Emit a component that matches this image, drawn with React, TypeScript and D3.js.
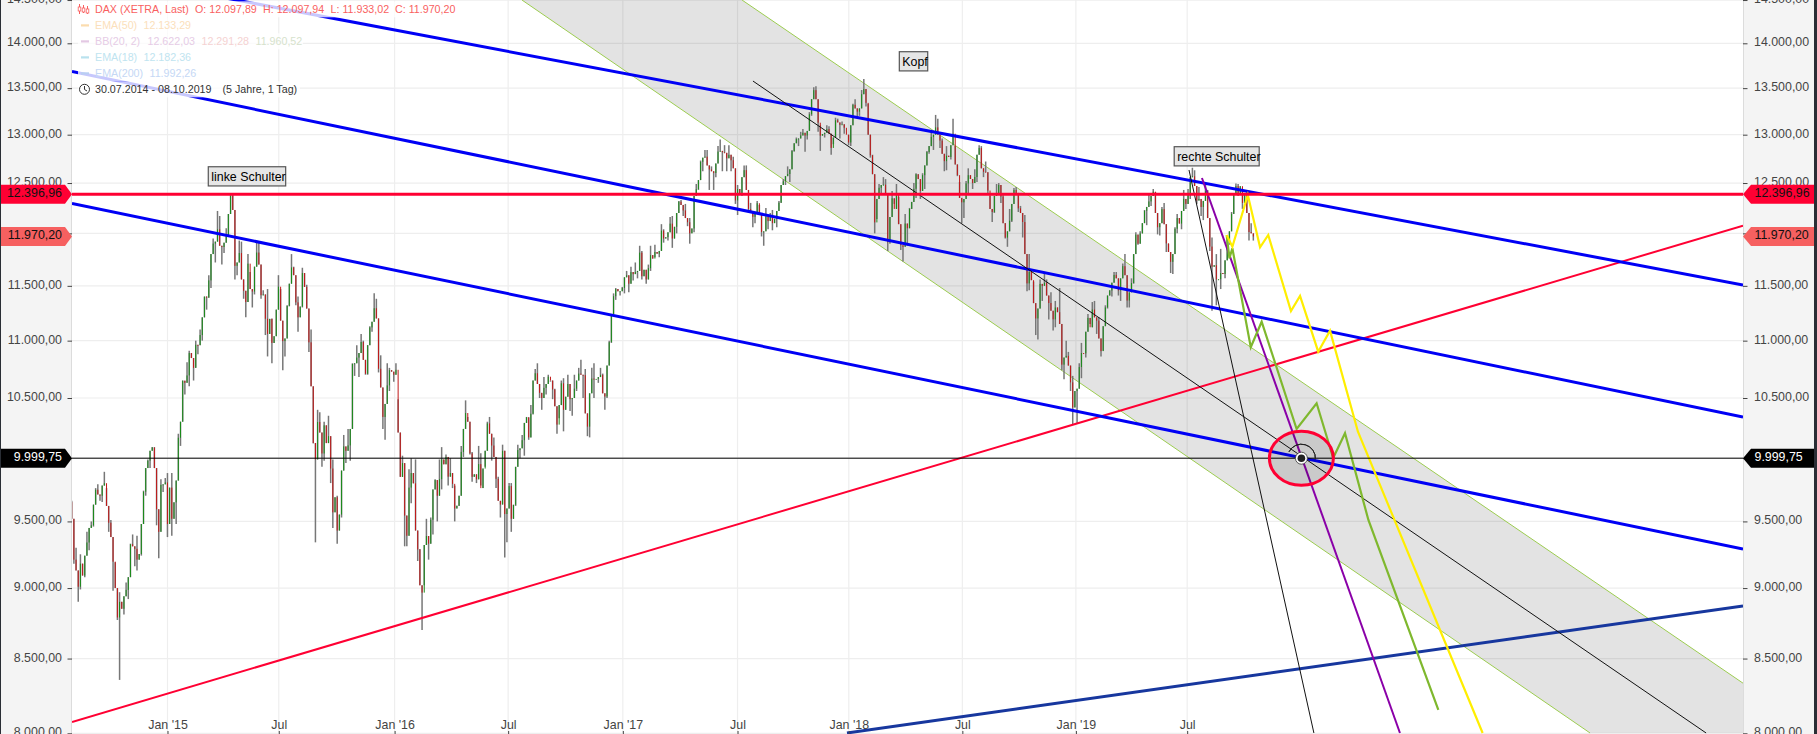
import React, { useRef, useEffect } from 'react';
import * as d3 from 'd3';

const WIDTH = 1817;
const HEIGHT = 734;
const PLOT_LEFT = 72;
const PLOT_RIGHT = 1743;
const FONT = '"Liberation Sans", Arial, sans-serif';

// weekly values, first week ends 01.08.2014
const firstOpen = 9650;
const firstBarYear = 2014.583;
const barsPerYear = 52.18;

const closes = [
  9210,9010,9092,9339,9470,9747,9700,9799,9490,9195,8788,8850,8987,9326,9291,9252,9732,9980,10087,9594,9786,9805,
  9764,9648,10167,10649,10694,10846,10963,11050,11401,11551,11901,12039,11868,11967,12374,11688,11810,11454,11709,11447,11815,11413,11197,11196,11040,11492,10996,11315,11673,11347,11308,11490,10985,10124,10298,10038,10123,9916,9688,9553,10096,10104,10794,10850,10988,10708,11119,11293,10752,10340,10608,10727,
  10743,9849,9545,9764,9798,9286,8967,9388,9513,9824,9831,9950,9851,9794,9622,10051,10373,10039,9870,9952,9916,10286,10103,9834,9631,9557,9776,9629,10066,10147,10337,10367,10713,10544,10587,10683,10573,10276,10626,10511,10490,10580,10710,10696,10259,10667,10664,10699,10513,10986,11404,11449,11481,
  11599,11629,11630,11814,11651,11666,11757,11804,12027,11963,12095,12064,12313,12225,12109,12048,12438,12717,12770,12638,12602,12823,12816,12753,12733,12325,12389,12631,12240,12162,12297,12014,12165,12167,12143,12303,12518,12592,12829,12955,12992,12991,13217,13478,13127,13007,13059,12861,13153,13104,13073,12918,
  13319,13245,13434,13340,12785,12107,12452,12483,11914,12346,12389,11886,12096,12241,12442,12540,12580,12819,12977,13077,12938,12724,12767,13010,12580,12306,12496,12541,12561,12860,12615,12424,12210,12394,12364,11959,12124,12430,12246,12111,11523,11553,11200,11518,11529,11341,11192,11257,10788,10865,10634,10559,
  10767,10887,11205,11281,11180,10907,11300,11457,11602,11458,11685,11364,11526,11988,11999,12222,12315,12412,12060,12238,11903,11726,12045,12096,12340,12399,12568,12323,12260,12419,11872,11694,11562,11611,11939,12192,12469,12468,12381,12013,11970,
];
// level in the middle of each week
const midweek = [
  9520,9130,9180,9240,9450,9630,9710,9780,9620,9380,9000,8900,8940,9080,9310,9210,9480,9920,10060,9920,9420,9790,
  9480,9520,9820,10300,10630,10890,10760,10960,11210,11390,11800,11920,11880,11910,12190,12230,11720,11560,11350,11470,11680,11700,11420,11060,10980,11280,11180,11020,11520,11600,11210,11620,11290,10600,9990,10210,10270,10180,9570,9430,9900,10060,10240,10800,10890,10830,10960,11170,11200,10590,10450,10740,
  10700,10210,9960,9390,9880,9430,9020,9320,9330,9750,9700,9990,10010,9880,9600,9700,10240,10300,9850,9830,9760,10060,10200,10010,9660,10060,9600,9520,9930,10080,10290,10170,10650,10620,10500,10620,10650,10430,10440,10400,10620,10500,10650,10700,10370,10540,10660,10680,10540,10780,11240,11470,11450,
  11580,11520,11610,11640,11590,11560,11790,11820,11830,11950,12010,11950,12200,12280,12150,12000,12370,12530,12760,12680,12620,12700,12830,12810,12790,12650,12440,12560,12430,12200,12200,12180,12020,12120,12100,12220,12480,12570,12640,12910,12960,13020,13040,13380,13380,12990,13020,13010,12970,13130,13110,13000,
  13100,13280,13280,13490,13000,12590,12340,12480,12380,12160,12240,12090,11870,12050,12310,12590,12420,12680,12880,13000,13000,12800,12780,12890,12690,12350,12340,12580,12500,12790,12650,12610,12240,12370,12480,12100,12020,12290,12400,12200,11800,11630,11340,11290,11500,11410,11270,11300,11150,10850,10780,10420,
  10580,10890,11080,11120,11210,11020,11130,11410,11530,11570,11570,11600,11440,11800,11900,12100,12260,12370,12200,12100,12090,11820,11800,12150,12220,12290,12560,12470,12340,12320,12150,11680,11560,11620,11740,12020,12380,12400,12300,12200,12000,
];
const highs = [
  9660,9300,9250,9420,9500,9760,9790,9890,9760,9510,9190,8970,9040,9330,9400,9390,9740,9990,10090,10090,9830,9840,
  9880,9880,10200,10650,10810,10910,11000,11100,11400,11600,11950,12220,12170,12050,12390,12390,11930,11920,11800,11630,11930,11920,11460,11470,11200,11600,11470,11320,11800,11680,11400,11670,11510,11100,10400,10380,10300,10350,9990,9700,10190,10240,10800,10960,11060,11000,11130,11430,11380,10870,10800,10760,
  10800,10490,10020,9910,10000,9990,9290,9520,9530,9830,9990,10090,10030,10000,9780,10100,10480,10340,10050,10100,10040,10300,10340,10170,9850,10110,9800,9800,10110,10190,10340,10440,10750,10800,10680,10700,10640,10580,10650,10670,10700,10700,10760,10830,10750,10760,10800,10760,10710,11000,11430,11480,11490,
  11640,11680,11720,11880,11830,11700,11880,11890,12090,12040,12160,12170,12320,12330,12290,12150,12490,12730,12840,12840,12670,12880,12950,12890,12890,12770,12480,12680,12680,12300,12320,12280,12250,12200,12230,12320,12540,12670,12840,12970,13030,13060,13240,13510,13520,13100,13100,13090,13180,13170,13140,13000,
  13330,13380,13480,13600,13330,12790,12490,12560,12540,12420,12490,12360,12190,12250,12500,12600,12600,12830,13020,13210,13170,12960,12880,13170,12880,12510,12520,12650,12640,12890,12880,12720,12370,12490,12500,12380,12240,12450,12460,12270,12180,11800,11540,11560,11620,11560,11440,11360,11480,11000,10900,10690,
  10800,10980,11240,11350,11360,11210,11320,11460,11630,11630,11710,11800,11570,12010,12020,12230,12380,12440,12410,12260,12300,11900,12060,12190,12430,12440,12656,12630,12460,12490,12430,11960,11800,11850,11970,12210,12494,12490,12440,12420,12100,
];
const lows = [
  9180,8900,8990,9080,9280,9460,9660,9650,9420,8980,8770,8354,8810,8920,9160,9130,9240,9700,9920,9470,9220,9730,
  9380,9390,9480,10100,10530,10600,10650,10880,11000,11280,11480,11720,11700,11810,11980,11560,11600,11380,11210,11300,11420,11380,11050,10860,10800,11040,10740,10860,11310,11320,11080,11300,10900,10120,9340,9930,9980,9800,9450,9330,9530,9960,9980,10690,10680,10700,10700,11080,10720,10240,10150,10560,
  10640,9850,9310,9310,9640,9200,8699,9020,9210,9400,9500,9750,9780,9760,9500,9620,10010,10030,9810,9800,9780,9930,9980,9760,9530,9226,9340,9420,9620,10000,10020,10150,10360,10500,10400,10530,10490,10200,10330,10220,10390,10350,10560,10500,10180,10170,10500,10630,10400,10500,10980,11370,11410,
  11430,11440,11550,11570,11560,11520,11640,11770,11770,11910,11930,11860,12000,12170,12070,11900,12010,12430,12620,12430,12430,12560,12620,12620,12620,12290,12180,12370,12220,12060,12100,11970,11880,12040,12030,12060,12300,12480,12510,12820,12880,12820,12950,13200,13030,12830,12970,12790,12900,12960,13010,12890,
  12880,13190,13200,13300,12760,12000,12140,12400,11830,11900,12290,11840,11730,11880,12240,12350,12340,12440,12800,12840,12860,12620,12630,12740,12570,12100,12150,12380,12440,12510,12560,12390,12110,12200,12300,11950,11870,12110,12210,11960,11450,11460,11050,11010,11360,11190,11090,11120,10740,10660,10560,10280,
  10290,10670,10850,11150,11060,10860,10910,11290,11400,11410,11360,11300,11300,11520,11890,12000,12080,12270,11990,11980,11820,11620,11610,12000,12040,12240,12340,12290,12170,12130,11830,11270,11320,11470,11570,11890,12190,12370,12240,11930,11930,
];

const priceTicks = [14500, 14000, 13500, 13000, 12500, 12000, 11500, 11000, 10500, 10000, 9500, 9000, 8500, 8000];
const timeTicks = [2015, 2015.49, 2016, 2016.5, 2017.005, 2017.51, 2018, 2018.5, 2019, 2019.49];
const timeLabels = ["Jan '15", 'Jul', "Jan '16", 'Jul', "Jan '17", 'Jul', "Jan '18", 'Jul', "Jan '19", 'Jul'];

// drawings as [year, price]
const blueLines = [
  [[2014.5795, 14870], [2021.9375, 11508]],
  [[2014.5795, 13683], [2021.9375, 10339]],
  [[2014.5795, 12294], [2021.9375, 9290]],
];
const risingRed = [[2014.5795, 8074], [2021.9375, 12075]];
const darkBlue = [[2017.992, 8002], [2021.9375, 8870]];
const channelUpper = [[2017.53, 14500], [2022.259, 8002]];
const channelLower = [[2016.561, 14500], [2021.264, 8002]];
const middleLine = [[2017.578, 13578], [2021.775, 8002]];
const steepLine = [[2019.498, 12633], [2020.048, 8002]];
const purpleLine = [[2019.555, 12551], [2020.427, 8002]];
const yellowPath = [
  [2019.664, 11984], [2019.689, 11871], [2019.757, 12379], [2019.811, 11865], [2019.847, 11984], [2019.947, 11268],
  [2019.987, 11406], [2020.067, 10902], [2020.119, 11089], [2020.242, 10217], [2020.791, 8002],
];
const greenPath = [
  [2019.664, 11984], [2019.676, 11760], [2019.689, 11856], [2019.77, 10941], [2019.818, 11170], [2019.972, 10239],
  [2020.06, 10455], [2020.133, 10001], [2020.185, 10204], [2020.288, 9511], [2020.596, 8153],
];
const resistance = 12396.96;
const lastClose = 11970.2;
const crossing = 9999.75;
const crossingYear = 2019.993;

const annotations = [
  { text: 'linke Schulter', year: 2015.35, price: 12568, w: 77.4 },
  { text: 'Kopf', year: 2018.285, price: 13797, w: 28.4 },
  { text: 'rechte Schulter', year: 2019.62, price: 12774, w: 85 },
];

const priceTags = [
  { value: resistance, fill: '#ff0033', color: '#111' },
  { value: lastClose, fill: '#f66060', color: '#111' },
  { value: crossing, fill: '#000', color: '#fff' },
];

const legendRows = [
  { w: 378, items: [['DAX (XETRA, Last)', 95, '#f95f5f'], ['O: 12.097,89', 195, '#f95f5f'], ['H: 12.097,94', 263, '#f95f5f'], ['L: 11.933,02', 330.5, '#f95f5f'], ['C: 11.970,20', 395, '#f95f5f']] },
  { w: 115, swatch: '#fbdcae', items: [['EMA(50)', 95, '#fbe0bb'], ['12.133,29', 143.5, '#fbe0bb']] },
  { w: 225, swatch: '#e3c8e3', items: [['BB(20, 2)', 95, '#e6cce6'], ['12.622,03', 147.5, '#e6cce6'], ['12.291,28', 201.5, '#f5d2d2'], ['11.960,52', 255.5, '#d6e2cc']] },
  { w: 115, swatch: '#b9e2ee', items: [['EMA(18)', 95, '#c0e4f0'], ['12.182,36', 143.5, '#c0e4f0']] },
  { w: 120, swatch: '#b9cff2', items: [['EMA(200)', 95, '#c5d8f5'], ['11.992,26', 149.5, '#c5d8f5']] },
  { w: 222, items: [['30.07.2014 - 08.10.2019', 95, '#333'], ['(5 Jahre, 1 Tag)', 222.5, '#333']] },
];

const de = d3.formatLocale({ decimal: ',', thousands: '.', grouping: [3], currency: ['', ''] });
const priceFormat = de.format(',.2f');

const App: React.FC = () => {
  const svgRef = useRef<SVGSVGElement | null>(null);

  useEffect(() => {
    if (!svgRef.current) return;
    const svg = d3.select(svgRef.current);
    svg.selectAll('*').remove();

    const x = d3.scaleLinear().domain([2014.5795, 2021.9375]).range([PLOT_LEFT, PLOT_RIGHT]);
    const y = d3.scaleLog().domain([8000, 14000]).range([733.3, 43.3]);
    const line = d3.line<number[]>().x(d => x(d[0])).y(d => y(d[1]));

    svg.append('rect').attr('width', WIDTH).attr('height', HEIGHT).attr('fill', '#fff');
    svg.append('defs').append('clipPath').attr('id', 'plot')
      .append('rect').attr('x', PLOT_LEFT).attr('y', 0).attr('width', PLOT_RIGHT - PLOT_LEFT).attr('height', HEIGHT);

    const plot = svg.append('g').attr('clip-path', 'url(#plot)');

    // grid
    plot.selectAll('.hgrid').data(priceTicks).enter().append('line')
      .attr('x1', PLOT_LEFT).attr('x2', PLOT_RIGHT)
      .attr('y1', d => y(d)).attr('y2', d => y(d))
      .attr('stroke', '#eeeeee').attr('stroke-width', 1.2);
    plot.selectAll('.vgrid').data(timeTicks).enter().append('line')
      .attr('x1', d => x(d)).attr('x2', d => x(d))
      .attr('y1', 0).attr('y2', HEIGHT)
      .attr('stroke', '#eeeeee').attr('stroke-width', 1.2);

    // channel
    plot.append('path')
      .attr('d', line([...channelUpper, channelLower[1], channelLower[0]]) + 'Z')
      .attr('fill', '#000').attr('fill-opacity', 0.11);
    [channelUpper, channelLower].forEach(c => {
      plot.append('path').attr('d', line(c)).attr('fill', 'none').attr('stroke', '#9ccc50').attr('stroke-width', 1);
    });

    // candles: every week is split at its midweek level, the weekly extremes go to the half nearer to them
    const bars = closes.flatMap((close, i) => {
      const open = i ? closes[i - 1] : firstOpen;
      const mid = midweek[i];
      const t = firstBarYear + i / barsPerYear;
      const highFirst = Math.max(open, mid) >= close;
      const lowFirst = Math.min(open, mid) <= close;
      return [
        {
          x: t - 0.25 / barsPerYear, open, close: mid,
          high: highFirst ? highs[i] : Math.max(open, mid),
          low: lowFirst ? lows[i] : Math.min(open, mid),
        },
        {
          x: t + 0.25 / barsPerYear, open: mid, close,
          high: highFirst ? Math.max(mid, close) : highs[i],
          low: lowFirst ? Math.min(mid, close) : lows[i],
        },
      ];
    });
    plot.selectAll('.wick').data(bars).enter().append('line')
      .attr('x1', d => x(d.x)).attr('x2', d => x(d.x))
      .attr('y1', d => y(d.high)).attr('y2', d => y(d.low))
      .attr('stroke', '#777').attr('stroke-width', 1.5);
    plot.selectAll('.body').data(bars).enter().append('rect')
      .attr('x', d => x(d.x) - 0.5).attr('width', 1)
      .attr('y', d => y(Math.max(d.open, d.close)))
      .attr('height', d => Math.max(1, Math.abs(y(d.open) - y(d.close))))
      .attr('fill', d => (d.close >= d.open ? '#1a8a1a' : '#c01818'));

    // drawings
    const stroke = (pts: number[][], color: string, width: number) =>
      plot.append('path').attr('d', line(pts)).attr('fill', 'none').attr('stroke', color)
        .attr('stroke-width', width).attr('stroke-linejoin', 'miter');

    stroke(darkBlue, '#17379e', 3);
    stroke(risingRed, '#ff0033', 2);
    blueLines.forEach(l => stroke(l, '#0000f5', 3));
    stroke(middleLine, '#111', 1);
    stroke(steepLine, '#111', 1);
    stroke(purpleLine, '#8a00a8', 2);
    stroke(greenPath, '#7fb82e', 2.2);
    stroke(yellowPath, '#ffee00', 2.2);

    plot.append('line').attr('x1', PLOT_LEFT).attr('x2', PLOT_RIGHT)
      .attr('y1', y(crossing)).attr('y2', y(crossing)).attr('stroke', '#000').attr('stroke-width', 1);
    plot.append('line').attr('x1', PLOT_LEFT).attr('x2', PLOT_RIGHT)
      .attr('y1', y(resistance) + 1).attr('y2', y(resistance) + 1).attr('stroke', '#ff0033').attr('stroke-width', 3);

    // marker at the crossing
    const cx = x(crossingYear);
    const cy = y(crossing);
    plot.append('ellipse').attr('cx', cx).attr('cy', cy).attr('rx', 32).attr('ry', 27)
      .attr('fill', '#000').attr('fill-opacity', 0.11).attr('stroke', '#ff0033').attr('stroke-width', 3);
    plot.append('path')
      .attr('d', d3.arc()({ innerRadius: 14, outerRadius: 14, startAngle: -1.1, endAngle: 1.65 }) as string)
      .attr('transform', `translate(${cx},${cy})`).attr('fill', 'none').attr('stroke', '#222').attr('stroke-width', 1);
    plot.append('circle').attr('cx', cx).attr('cy', cy).attr('r', 6).attr('fill', '#fff').attr('stroke', '#333').attr('stroke-width', 0.8);
    plot.append('circle').attr('cx', cx).attr('cy', cy).attr('r', 3.8).attr('fill', '#222');

    // text boxes
    const notes = plot.selectAll('.note').data(annotations).enter().append('g')
      .attr('transform', d => `translate(${x(d.year) - d.w / 2},${y(d.price) - 9.6})`);
    notes.append('rect').attr('width', d => d.w).attr('height', 19.2)
      .attr('fill', '#e6e6e6').attr('stroke', '#555').attr('stroke-width', 1.2);
    notes.append('text').attr('x', 3).attr('y', 14).text(d => d.text)
      .attr('font-family', FONT).attr('font-size', 12.4).attr('fill', '#000');

    // legend
    const legend = svg.append('g').attr('font-family', FONT).attr('font-size', 10.7);
    legendRows.forEach((row, r) => {
      const rowY = 9.3 + r * 16;
      legend.append('rect').attr('x', 78).attr('y', rowY - 8).attr('width', row.w).attr('height', 16)
        .attr('fill', '#fff').attr('fill-opacity', 0.78);
      if (row.swatch) {
        legend.append('rect').attr('x', 81).attr('y', rowY - 1).attr('width', 8).attr('height', 2.2).attr('fill', row.swatch);
      }
      row.items.forEach(([label, tx, color]) => {
        legend.append('text').attr('x', tx as number).attr('y', rowY + 3.8).attr('fill', color as string).text(label as string);
      });
    });
    // candle icon
    [79.5, 83.5, 87.5].forEach((ix, k) => {
      legend.append('line').attr('x1', ix).attr('x2', ix).attr('y1', 4 + k).attr('y2', 14 - (k % 2)).attr('stroke', '#f95f5f').attr('stroke-width', 1);
      legend.append('rect').attr('x', ix - 1.3).attr('y', 7 + k).attr('width', 2.6).attr('height', 4).attr('fill', '#fff').attr('stroke', '#f95f5f').attr('stroke-width', 0.8);
    });
    // clock icon
    legend.append('circle').attr('cx', 84.5).attr('cy', 89.3).attr('r', 5).attr('fill', 'none').attr('stroke', '#333').attr('stroke-width', 1);
    legend.append('path').attr('d', 'M84.5 86V89.5L87 91').attr('fill', 'none').attr('stroke', '#333').attr('stroke-width', 1);

    // side panels
    svg.append('rect').attr('x', 0).attr('width', PLOT_LEFT).attr('height', HEIGHT).attr('fill', '#f4f4f4');
    svg.append('rect').attr('x', PLOT_RIGHT).attr('width', WIDTH - PLOT_RIGHT).attr('height', HEIGHT).attr('fill', '#f4f4f4');
    svg.append('rect').attr('x', 0).attr('width', 1).attr('height', HEIGHT).attr('fill', '#2a2e35');
    svg.append('rect').attr('x', 1814).attr('width', 3).attr('height', HEIGHT).attr('fill', '#2a2e35');
    [PLOT_LEFT - 0.5, PLOT_RIGHT + 0.5].forEach(px => {
      svg.append('line').attr('x1', px).attr('x2', px).attr('y1', 0).attr('y2', HEIGHT).attr('stroke', '#dcdcdc');
    });

    // axes
    const styleAxis = (g: d3.Selection<SVGGElement, unknown, null, undefined>) => {
      g.select('.domain').remove();
      g.selectAll('.tick line').attr('stroke', '#444');
      g.selectAll('.tick text').attr('fill', '#444').attr('font-family', FONT).attr('font-size', 12.4);
    };
    // the 9.999,75 tag sits on 10.000,00, so that label is not shown
    const priceLabel = (d: d3.NumberValue) => (+d === 10000 ? '' : priceFormat(+d));
    const leftAxis = svg.append('g').attr('transform', `translate(${PLOT_LEFT},0)`)
      .call(d3.axisLeft(y).tickValues(priceTicks).tickFormat(priceLabel).tickSize(4.5).tickPadding(5.5));
    styleAxis(leftAxis);
    leftAxis.selectAll('.tick text').attr('dy', '0.2em');
    const rightAxis = svg.append('g').attr('transform', `translate(${PLOT_RIGHT},0)`)
      .call(d3.axisRight(y).tickValues(priceTicks).tickFormat(priceLabel).tickSize(4.5).tickPadding(6.5));
    styleAxis(rightAxis);
    rightAxis.selectAll('.tick text').attr('dy', '0.2em');
    const bottomAxis = svg.append('g').attr('transform', `translate(0,${HEIGHT})`)
      .call(d3.axisTop(x).tickValues(timeTicks).tickFormat((_, i) => timeLabels[i]).tickSize(3).tickPadding(2.5));
    styleAxis(bottomAxis);

    // price tags on both axes
    priceTags.forEach(tag => {
      const c = y(tag.value) + (tag.value === resistance ? 1 : 0);
      svg.append('polygon')
        .attr('points', `1,${c - 9.5} 65,${c - 9.5} 72,${c} 65,${c + 9.5} 1,${c + 9.5}`).attr('fill', tag.fill);
      svg.append('polygon')
        .attr('points', `1743,${c} 1751,${c - 9.5} 1814,${c - 9.5} 1814,${c + 9.5} 1751,${c + 9.5}`).attr('fill', tag.fill);
      svg.append('text').attr('x', 62).attr('y', c + 3).attr('text-anchor', 'end').attr('fill', tag.color)
        .attr('font-family', FONT).attr('font-size', 12.4).text(priceFormat(tag.value));
      svg.append('text').attr('x', 1754.5).attr('y', c + 3).attr('fill', tag.color)
        .attr('font-family', FONT).attr('font-size', 12.4).text(priceFormat(tag.value));
    });
  }, []);

  return <svg ref={svgRef} width={WIDTH} height={HEIGHT} style={{ position: 'absolute', left: 0, top: 0 }}></svg>;
};

export default App;
